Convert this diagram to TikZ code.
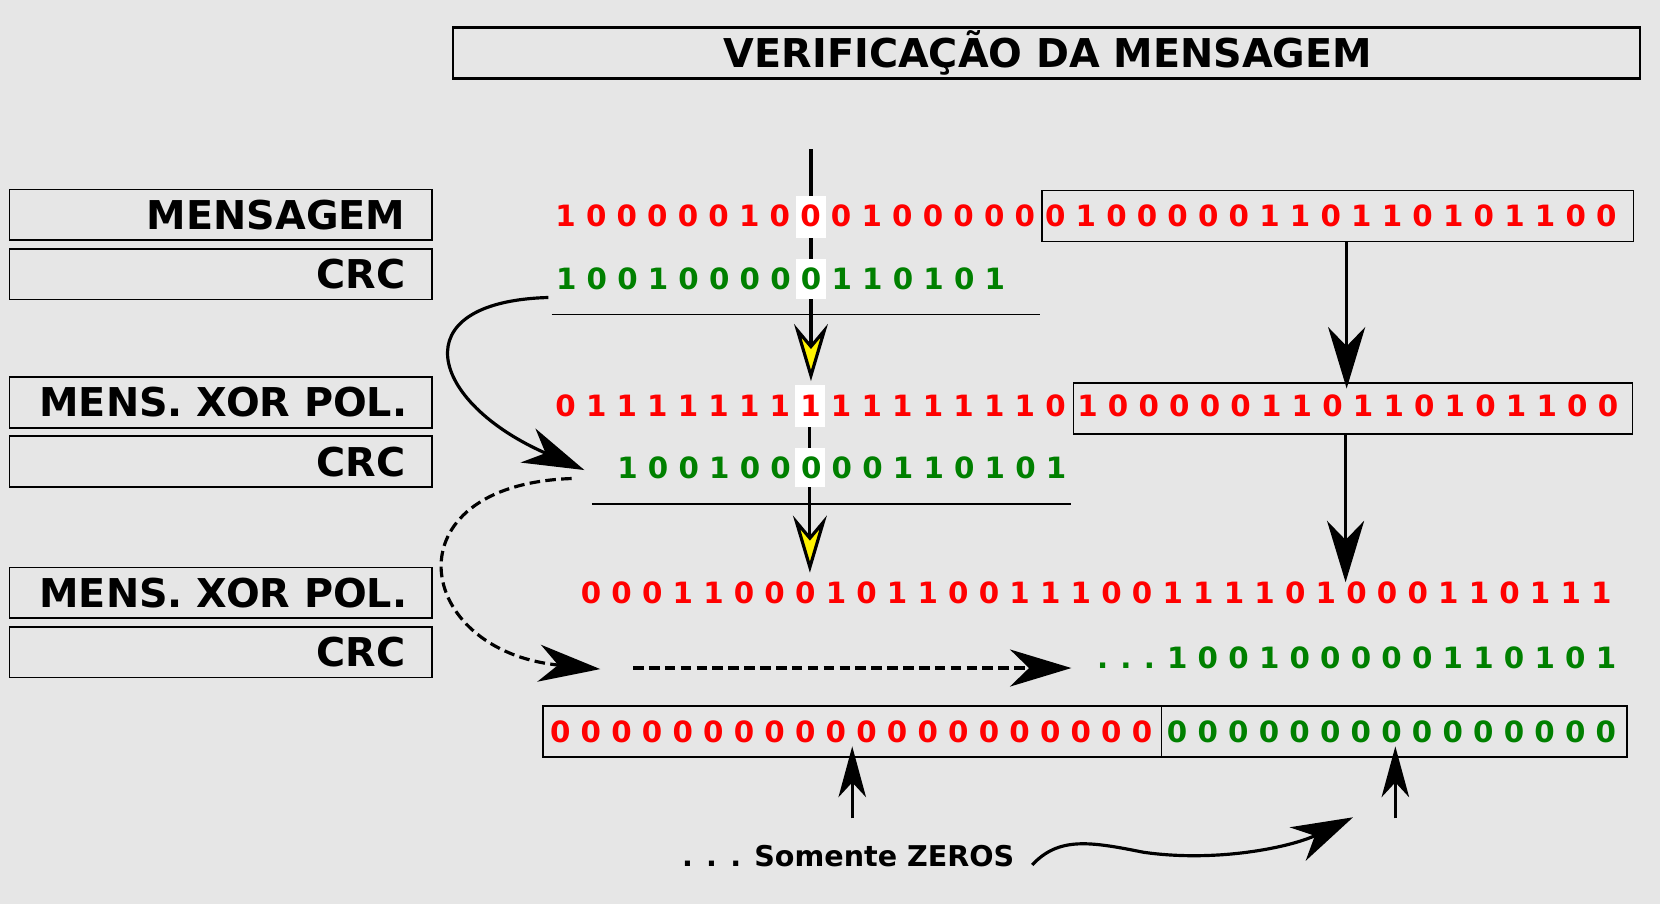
\documentclass[tikz,border=0pt]{standalone}
\usepackage{fontspec}
\setmainfont{DejaVu Sans}
\usetikzlibrary{arrows.meta}
\definecolor{bg}{HTML}{E6E6E6}
\definecolor{myred}{HTML}{FF0000}
\definecolor{mygreen}{HTML}{008000}
\begin{document}
\begin{tikzpicture}[x=1pt,y=-1pt,
  box/.style={draw=black, line width=1.6pt},
  lbltxt/.style={font=\bfseries\fontsize{37.5}{45}\selectfont, inner sep=0pt, anchor=base east},
  dig/.style={font=\bfseries\fontsize{27.7}{33}\selectfont, inner sep=0pt, anchor=base west},
  yarrow/.style={line width=3pt, -{Stealth[length=54pt,width=32pt,inset=19pt,fill=yellow]}},
  barrow/.style={line width=3pt, -{Stealth[length=58pt,width=35pt,inset=18pt]}},
  sarrow/.style={line width=2.6pt, -{Stealth[length=48pt,width=26pt,inset=14pt]}},
]
\fill[bg] (0,0) rectangle (1568,854);
\useasboundingbox (0,0) rectangle (1568,854);

% title
\draw[line width=2.5pt] (428,26) rectangle (1549,74);
\node[font=\bfseries\fontsize{37.5}{45}\selectfont, inner sep=0pt, anchor=base] (title) at (990,63.7) {VERIFICAÇÃO DA MENSAGEM};

% left labels
\draw[box] (9,179) rectangle (408,227);
\node[lbltxt] (l1) at (383,216.7) {MENSAGEM};
\draw[box] (9,235) rectangle (408,283);
\node[lbltxt] (l2) at (383,272.7) {CRC};
\draw[box] (9,356) rectangle (408,404);
\node[lbltxt] (l3) at (385,393.7) {MENS. XOR POL.};
\draw[box] (9,412) rectangle (408,460);
\node[lbltxt] (l4) at (383,449.7) {CRC};
\draw[box] (9,536) rectangle (408,584);
\node[lbltxt] (l5) at (385,573.7) {MENS. XOR POL.};
\draw[box] (9,592) rectangle (408,640);
\node[lbltxt] (l6) at (383,629.7) {CRC};

% boxes around bit groups
\draw[box] (984,180) rectangle (1543,228);
\draw[box] (1014,362) rectangle (1542,410);
\draw[box] (513,667) rectangle (1537,715);
\draw[box] (1097,667) -- (1097,715);

% underlines
\coordinate (u1a) at (521,297); \coordinate (u1b) at (982,297);
\draw[line width=1.6pt] (u1a) -- (u1b);
\coordinate (u2a) at (559,476); \coordinate (u2b) at (1012,476);
\draw[line width=1.6pt] (u2a) -- (u2b);

% vertical arrows (yellow heads)
\coordinate (a1s) at (766,141); \coordinate (a1e) at (766,360);
\draw[yarrow] (a1s) -- (a1e);
\coordinate (a2s) at (765,366); \coordinate (a2e) at (765,541);
\draw[yarrow] (a2s) -- (a2e);

% right vertical arrows
\coordinate (b1s) at (1272,229); \coordinate (b1e) at (1272,367);
\draw[barrow] (b1s) -- (b1e);
\coordinate (b2s) at (1271,410); \coordinate (b2e) at (1271,550);
\draw[barrow] (b2s) -- (b2e);

% highlights
\fill[white] (752,185) rectangle (780,225);
\fill[white] (752,245) rectangle (780,282);
\fill[white] (751,364) rectangle (779,403);
\fill[white] (751,423) rectangle (779,460);

% curved arrows
\coordinate (c1s) at (518,281); \coordinate (c1e) at (552,444);
\draw[barrow] (c1s) .. controls (378,285) and (405,380) .. (c1e);
\coordinate (c2s) at (540,452); \coordinate (c2e) at (567,632);
\draw[barrow, dash pattern=on 10pt off 5pt] (c2s) .. controls (365,458) and (390,615) .. (c2e);
\coordinate (d1s) at (598,631); \coordinate (d1e) at (1012,631);
\draw[barrow, dash pattern=on 10pt off 5pt] (d1s) -- (d1e);

% bottom arrows
\coordinate (e1s) at (805,773); \coordinate (e1e) at (805,705);
\draw[sarrow] (e1s) -- (e1e);
\coordinate (e2s) at (1318,773); \coordinate (e2e) at (1318,705);
\draw[sarrow] (e2s) -- (e2e);
\coordinate (f1s) at (975,817); \coordinate (f1m) at (1080,805); \coordinate (f1e) at (1278,772);
\draw[barrow] (f1s) .. controls (1000,790) and (1030,795) .. (f1m) .. controls (1150,815) and (1220,800) .. (f1e);

% bit rows
\node[dig, myred] (r1a) at (524.4,214) {1 0 0 0 0 0 1 0 0 0 1 0 0 0 0 0};
\node[dig, myred] (r1b) at (986.9,214) {0 1 0 0 0 0 0 1 1 0 1 1 0 1 0 1 1 0 0};
\node[dig, mygreen] (g1) at (525,273) {1 0 0 1 0 0 0 0 0 1 1 0 1 0 1};
\node[dig, myred] (r2a) at (524.4,393) {0 1 1 1 1 1 1 1 1 1 1 1 1 1 1 1 0};
\node[dig, myred] (r2b) at (1017.4,393) {1 0 0 0 0 0 1 1 0 1 1 0 1 0 1 1 0 0};
\node[dig, mygreen] (g2) at (582.9,452) {1 0 0 1 0 0 0 0 0 1 1 0 1 0 1};
\node[dig, myred] (r3) at (548.4,569.6) {0 0 0 1 1 0 0 0 1 0 1 1 0 0 1 1 1 0 0 1 1 1 1 0 1 0 0 0 1 1 0 1 1 1};
\node[dig, mygreen] (g3) at (1036,631.6) {.\kern-1.2pt{} .\kern-1.2pt{} .\kern-1.5pt{} 1 0 0 1 0 0 0 0 0 1 1 0 1 0 1};
\node[dig, myred] (r4) at (519.4,701) {0 0 0 0 0 0 0 0 0 0 0 0 0 0 0 0 0 0 0 0};
\node[dig, mygreen] (g4) at (1102.1,701) {0 0 0 0 0 0 0 0 0 0 0 0 0 0 0};
\node[dig, black, font=\bfseries\fontsize{27}{33}\selectfont] (zeros) at (644,818) {. . . Somente ZEROS};
\end{tikzpicture}
\end{document}
